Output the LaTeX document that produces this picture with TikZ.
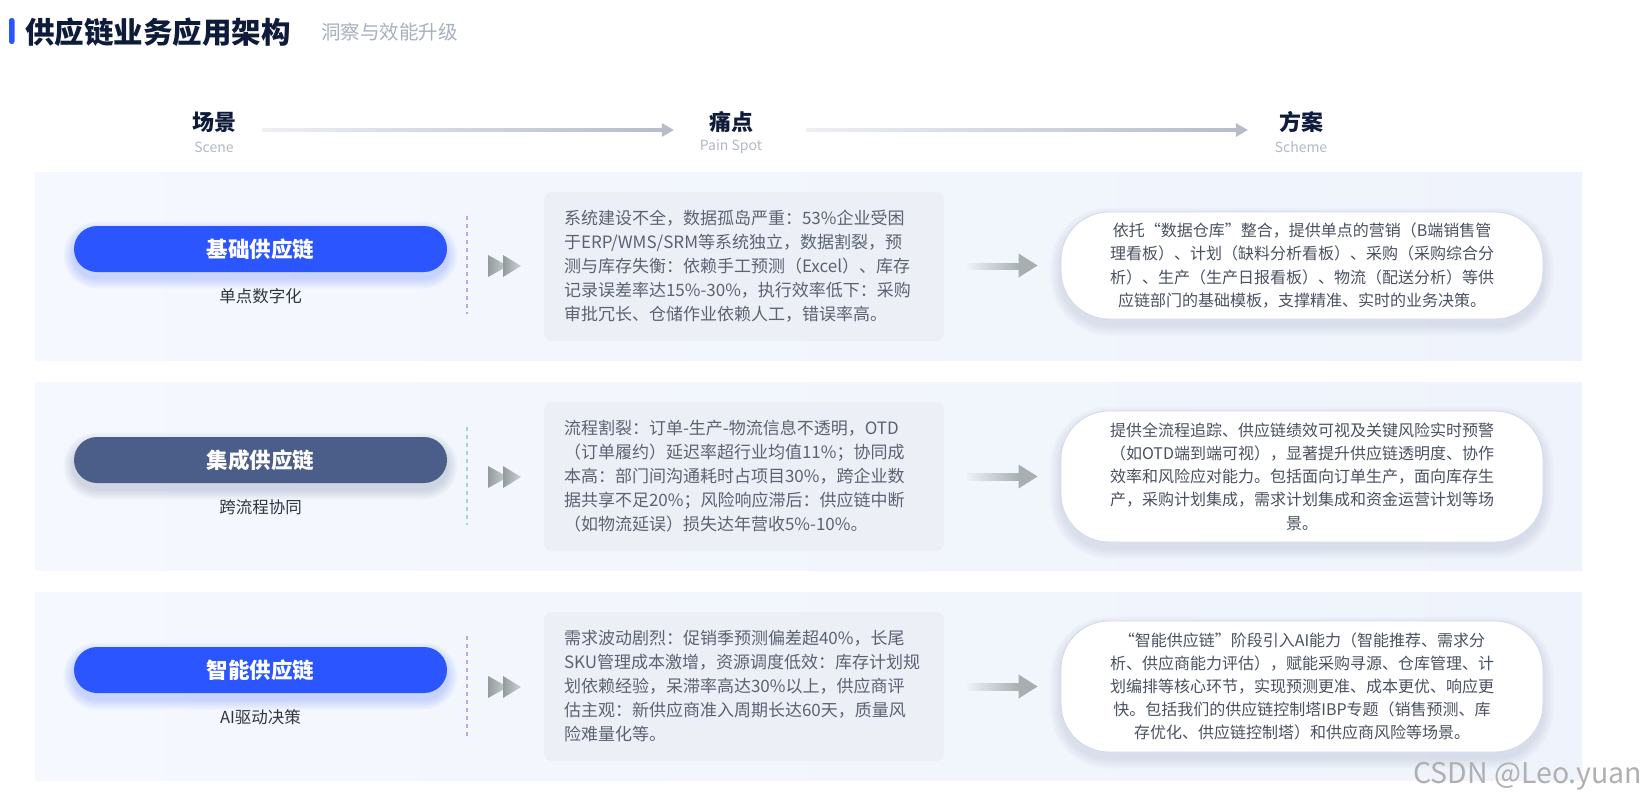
\documentclass[tikz,border=0pt]{standalone}
\usepackage{fontspec}
\setmainfont{Noto Sans CJK SC}
\usetikzlibrary{calc}
\definecolor{brand}{HTML}{2B55FF}
\definecolor{navy}{HTML}{0E1B3A}
\definecolor{subgray}{HTML}{A9B0BD}
\definecolor{hdrsubc}{HTML}{B3B9C3}
\definecolor{arrL}{HTML}{EDEFF3}
\definecolor{arrD}{HTML}{B6BDC7}
\definecolor{rowL}{HTML}{F5F8FE}
\definecolor{rowR}{HTML}{EFF3FB}
\definecolor{pillslate}{HTML}{4B5E89}
\definecolor{subtext}{HTML}{2F3542}
\definecolor{lav}{HTML}{B5A6F0}
\definecolor{mint}{HTML}{96DEC6}
\definecolor{chevD}{HTML}{939C9C}
\definecolor{chevL}{HTML}{CDD2D5}
\definecolor{painfill}{HTML}{ECEFF6}
\definecolor{paintext}{HTML}{5B6373}
\definecolor{schtext}{HTML}{4A5160}
\definecolor{schborder}{HTML}{D6DAE8}
\definecolor{garrL}{HTML}{EEF1F6}
\definecolor{garrR}{HTML}{A7AFB1}
\definecolor{wmgray}{HTML}{B0B0B0}
\definecolor{shadowc}{HTML}{8A93B8}

\newcommand\softglow[6]{%
  \foreach \k in {1,...,7}{%
    \pgfmathsetmacro\rr{#5+\k*1.5}%
    \fill[#6, opacity=0.03, rounded corners=\rr] (#1-\k*1.5, #2-\k*1.5+6) rectangle (#3+\k*1.5, #4+\k*1.5+6);
  }}
\newcommand\chev[2]{%
  \shade[left color=chevD, right color=chevL] (#1,#2-11) -- (#1+20,#2) -- (#1,#2+11) -- cycle;
  \shade[left color=chevD, right color=chevL] (#1+15,#2-11) -- (#1+33,#2) -- (#1+15,#2+11) -- cycle;}
\newcommand\hdrarrow[2]{%
  \shade[left color=arrL, right color=arrD] ($(#1)+(0,-1.5)$) rectangle ($(#2)+(-10,1.5)$);
  \fill[arrD] ($(#2)+(-12,-7)$) -- (#2) -- ($(#2)+(-12,7)$) -- cycle;}
\newcommand\grayarrow[2]{%
  \shade[left color=garrL, right color=garrR] ($(#1)+(0,-3.5)$) rectangle ($(#2)+(-18,3.5)$);
  \fill[garrR] ($(#2)+(-19,-12)$) -- (#2) -- ($(#2)+(-19,12)$) -- cycle;}

\begin{document}
\begin{tikzpicture}[x=1pt,y=-1pt,
  hdr/.style={font=\fontsize{22}{22}\bfseries, text=navy, inner sep=0},
  hdrsub/.style={font=\fontsize{14}{14}\selectfont, text=hdrsubc, inner sep=0},
  pill/.style={rectangle, rounded corners=23, minimum width=373, minimum height=46, inner sep=0,
    text=white, font=\fontsize{21.5}{22}\bfseries},
  subt/.style={font=\fontsize{16.5}{17}\selectfont, text=subtext, inner sep=0},
  dashline/.style={line width=2pt, dash pattern=on 4pt off 4pt},
  painbox/.style={rectangle, fill=painfill, rounded corners=8, minimum width=400, minimum height=149,
    text width=360, align=left, inner sep=0, font=\fontsize{17}{24}\selectfont, text=paintext},
  schbox/.style={rectangle, fill=white, draw=schborder, line width=0.9pt, rounded corners=48, minimum width=482,
    text width=420, align=center, inner sep=0, font=\fontsize{16}{23.2}\selectfont, text=schtext},
]
\useasboundingbox (0,0) rectangle (1645,803);
\fill[white] (0,0) rectangle (1645,803);

% title
\fill[brand, rounded corners=2.5] (9,18) rectangle (14.5,44);
\node[anchor=west, font=\fontsize{29.5}{30}\bfseries, text=navy, inner sep=0] (title) at (25,32) {供应链业务应用架构};
\node[anchor=west, font=\fontsize{19.5}{20}\selectfont, text=subgray, inner sep=0] (subtitle) at (321,32) {洞察与效能升级};

% header
\node[hdr] (h1) at (214,122) {场景};
\node[hdrsub] (h1s) at (214,147) {Scene};
\node[hdr] (h2) at (731,122) {痛点};
\node[hdrsub] (h2s) at (731,147) {Pain Spot};
\node[hdr] (h3) at (1301,122) {方案};
\node[hdrsub] (h3s) at (1301,147) {Scheme};
\coordinate (a1s) at ($(h1.east)+(26,8)$);
\coordinate (a1e) at ($(h2.west)+(-35,8)$);
\coordinate (a2s) at ($(h2.east)+(53,8)$);
\coordinate (a2e) at ($(h3.west)+(-31,8)$);
\hdrarrow{a1s}{a1e}
\hdrarrow{a2s}{a2e}

% row backgrounds
\shade[left color=rowL, right color=rowR] (35,172) rectangle (1582,360);
\shade[left color=rowL, right color=rowR] (35,382) rectangle (1582,570);
\shade[left color=rowL, right color=rowR] (35,592) rectangle (1582,780);

% ---------- row 1
\softglow{74}{226}{447}{272}{23}{brand}
\node[pill, fill=brand] (pill1) at (260.5,249) {基础供应链};
\node[subt] (sub1) at (260.5,296) {单点数字化};
\draw[dashline, lav] (466.5,216) -- (466.5,314);
\chev{488}{266}
\node[painbox] (pain1) at (744,266.5) {系统建设不全，数据孤岛严重：53\%企业受困\\
于ERP/WMS/SRM等系统独立，数据割裂，预\\
测与库存失衡：依赖手工预测（Excel）、库存\\
记录误差率达15\%-30\%，执行效率低下：采购\\
审批冗长、仓储作业依赖人工，错误率高。};
\softglow{1061}{212}{1543}{319}{48}{shadowc}
\node[schbox, minimum height=107] (sch1) at (1302,265.5) {依托“数据仓库”整合，提供单点的营销（B端销售管\\
理看板）、计划（缺料分析看板）、采购（采购综合分\\
析）、生产（生产日报看板）、物流（配送分析）等供\\
应链部门的基础模板，支撑精准、实时的业务决策。};
\coordinate (g1s) at ($(pain1.east)+(23,0)$);
\coordinate (g1e) at ($(sch1.west)+(-23,0)$);
\grayarrow{g1s}{g1e}

% ---------- row 2
\softglow{74}{437}{447}{483}{23}{pillslate}
\node[pill, fill=pillslate] (pill2) at (260.5,460) {集成供应链};
\node[subt] (sub2) at (260.5,507) {跨流程协同};
\draw[dashline, mint] (466.5,427) -- (466.5,525);
\chev{488}{477}
\node[painbox] (pain2) at (744,476.5) {流程割裂：订单-生产-物流信息不透明，OTD\\
（订单履约）延迟率超行业均值11\%；协同成\\
本高：部门间沟通耗时占项目30\%，跨企业数\\
据共享不足20\%；风险响应滞后：供应链中断\\
（如物流延误）损失达年营收5\%-10\%。};
\softglow{1061}{411}{1543}{542}{48}{shadowc}
\node[schbox, minimum height=131] (sch2) at (1302,476.5) {提供全流程追踪、供应链绩效可视及关键风险实时预警\\
（如OTD端到端可视），显著提升供应链透明度、协作\\
效率和风险应对能力。包括面向订单生产，面向库存生\\
产，采购计划集成，需求计划集成和资金运营计划等场\\
景。};
\coordinate (g2s) at ($(pain2.east)+(23,0)$);
\coordinate (g2e) at ($(sch2.west)+(-23,0)$);
\grayarrow{g2s}{g2e}

% ---------- row 3
\softglow{74}{647}{447}{693}{23}{brand}
\node[pill, fill=brand] (pill3) at (260.5,670) {智能供应链};
\node[subt] (sub3) at (260.5,717) {AI驱动决策};
\draw[dashline, lav] (466.5,636) -- (466.5,736);
\chev{488}{687}
\node[painbox] (pain3) at (744,686.5) {需求波动剧烈：促销季预测偏差超40\%，长尾\\
SKU管理成本激增，资源调度低效：库存计划规\\
划依赖经验，呆滞率高达30\%以上，供应商评\\
估主观：新供应商准入周期长达60天，质量风\\
险难量化等。};
\softglow{1061}{621}{1543}{752}{48}{shadowc}
\node[schbox, minimum height=131] (sch3) at (1302,686.5) {“智能供应链”阶段引入AI能力（智能推荐、需求分\\
析、供应商能力评估），赋能采购寻源、仓库管理、计\\
划编排等核心环节，实现预测更准、成本更优、响应更\\
快。包括我们的供应链控制塔IBP专题（销售预测、库\\
存优化、供应链控制塔）和供应商风险等场景。};
\coordinate (g3s) at ($(pain3.east)+(23,0)$);
\coordinate (g3e) at ($(sch3.west)+(-23,0)$);
\grayarrow{g3s}{g3e}

% watermark
\node[anchor=east, font=\fontsize{28.5}{29}\selectfont, text=wmgray, inner sep=0] (wm) at (1642,776) {CSDN @Leo.yuan};
\end{tikzpicture}
\end{document}
